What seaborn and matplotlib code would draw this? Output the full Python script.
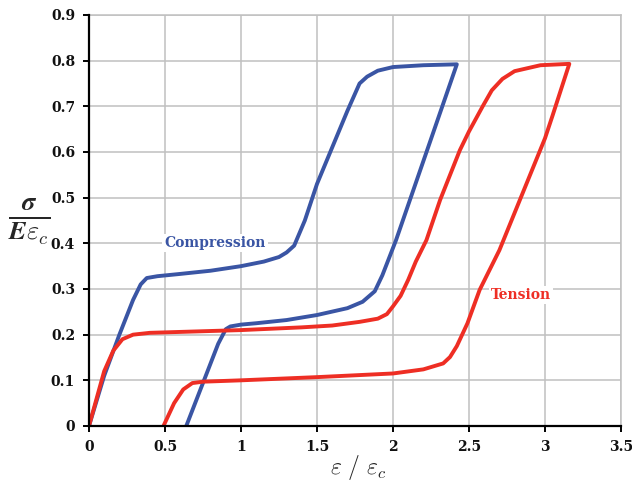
import matplotlib
matplotlib.use("Agg")
import matplotlib.pyplot as plt
import seaborn as sns
import pandas as pd

# Compression loop (blue)
comp_x = [0, 0.1, 0.2, 0.29, 0.34, 0.38, 0.45, 0.6, 0.8, 1.0, 1.15, 1.25, 1.3, 1.35, 1.42, 1.5, 1.6, 1.7,
          1.78, 1.83, 1.9, 2.0, 2.2, 2.42,
          2.02, 1.93, 1.88, 1.8, 1.7, 1.5, 1.3, 1.1, 1.0, 0.93, 0.9, 0.85, 0.64]
comp_y = [0, 0.11, 0.2, 0.276, 0.31, 0.324, 0.328, 0.333, 0.34, 0.35, 0.36, 0.37, 0.38, 0.395, 0.45, 0.53,
          0.61, 0.69, 0.75, 0.765, 0.778, 0.786, 0.79, 0.792,
          0.407, 0.33, 0.295, 0.272, 0.258, 0.243, 0.232, 0.225, 0.222, 0.218, 0.212, 0.18, 0.0]

# Tension loop (red)
tens_x = [0, 0.1, 0.16, 0.22, 0.29, 0.4, 0.7, 1.0, 1.4, 1.6, 1.78, 1.9, 1.96, 2.0, 2.05, 2.1, 2.15, 2.22,
          2.31, 2.44, 2.5, 2.59, 2.65, 2.72, 2.8, 2.97, 3.16,
          3.05, 3.0, 2.7, 2.57, 2.49, 2.42, 2.375, 2.33, 2.2, 2.0, 1.5, 1.0, 0.75, 0.68, 0.62, 0.56, 0.49]
tens_y = [0, 0.12, 0.165, 0.19, 0.2, 0.204, 0.207, 0.21, 0.216, 0.22, 0.228, 0.235, 0.245, 0.262, 0.285,
          0.32, 0.36, 0.407, 0.495, 0.604, 0.645, 0.70, 0.735, 0.76, 0.777, 0.79, 0.793,
          0.68, 0.63, 0.385, 0.298, 0.225, 0.175, 0.151, 0.137, 0.124, 0.115, 0.107, 0.1, 0.097, 0.094,
          0.08, 0.05, 0.0]

x_ticks = [0, 0.5, 1, 1.5, 2, 2.5, 3, 3.5]
x_ticklabels = ["0", "0.5", "1", "1.5", "2", "2.5", "3", "3.5"]
y_ticks = [0, 0.1, 0.2, 0.3, 0.4, 0.5, 0.6, 0.7, 0.8, 0.9]
y_ticklabels = ["0", "0.1", "0.2", "0.3", "0.4", "0.5", "0.6", "0.7", "0.8", "0.9"]

BLUE = "#3a55a4"
RED = "#ee2e24"

sns.set_style("white")
plt.rcParams["mathtext.fontset"] = "cm"

fig = plt.figure(figsize=(6.32, 4.82), dpi=100)
ax = fig.add_axes([0.1408, 0.1162, 0.9826 - 0.1408, 0.9689 - 0.1162])

df_c = pd.DataFrame({"x": comp_x, "y": comp_y})
df_t = pd.DataFrame({"x": tens_x, "y": tens_y})
sns.lineplot(data=df_c, x="x", y="y", sort=False, estimator=None, color=BLUE, lw=2.8, ax=ax, zorder=3)
sns.lineplot(data=df_t, x="x", y="y", sort=False, estimator=None, color=RED, lw=2.8, ax=ax, zorder=3)

ax.set_xlim(0, 3.5)
ax.set_ylim(0, 0.9)
ax.set_xticks(x_ticks)
ax.set_xticklabels(x_ticklabels)
ax.set_yticks(y_ticks)
ax.set_yticklabels(y_ticklabels)
for lab in ax.get_xticklabels() + ax.get_yticklabels():
    lab.set_fontfamily("DejaVu Serif")
    lab.set_fontweight("bold")
    lab.set_fontsize(10)
    lab.set_color("#111111")

ax.grid(True, color="#c0c0c0", lw=1.1, zorder=0)
ax.set_axisbelow(True)
for s in ["top", "right"]:
    ax.spines[s].set_color("#c0c0c0")
    ax.spines[s].set_linewidth(1.1)
for s in ["left", "bottom"]:
    ax.spines[s].set_color("black")
    ax.spines[s].set_linewidth(1.6)
    ax.spines[s].set_zorder(4)
ax.tick_params(axis="both", which="major", direction="out", length=4, width=1.4, color="black",
               bottom=True, left=True, pad=6)

ax.set_xlabel(r"$\varepsilon\ /\ \varepsilon_c$", fontsize=17, va="center")
ax.xaxis.set_label_coords(0.506, -0.102)
ax.set_ylabel(r"$\frac{\boldsymbol{\sigma}}{\boldsymbol{E\varepsilon_c}}$", fontsize=27, rotation=0,
              va="center", ha="center")
ax.yaxis.set_label_coords(-0.113, 0.496)

bbox = dict(boxstyle="square,pad=0.15", fc="white", ec="none")
ax.text(0.83, 0.40, "Compression", color=BLUE, fontfamily="DejaVu Serif", fontweight="bold",
        fontsize=10, ha="center", va="center", bbox=bbox, zorder=2)
ax.text(2.84, 0.287, "Tension", color=RED, fontfamily="DejaVu Serif", fontweight="bold",
        fontsize=10, ha="center", va="center", bbox=bbox, zorder=2)

fig.savefig("out.png", dpi=100)
